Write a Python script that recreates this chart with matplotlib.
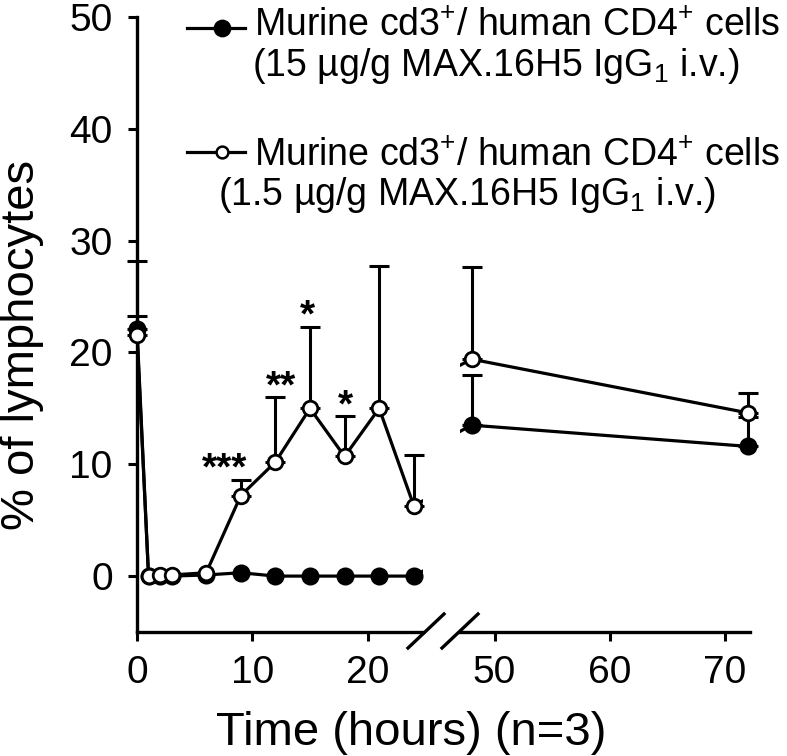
import numpy as np
import matplotlib
matplotlib.use('Agg')
import matplotlib.pyplot as plt
from matplotlib.lines import Line2D

plt.rcParams.update({
    'font.family': ['Liberation Sans', 'DejaVu Sans'],
    'mathtext.fontset': 'custom',
    'mathtext.rm': 'Liberation Sans',
    'mathtext.it': 'Liberation Sans:italic',
    'mathtext.bf': 'Liberation Sans:bold',
    'axes.linewidth': 2.4,
})

# Data (% of lymphocytes, mean + upper SD)
hours = np.array([0, 1, 2, 3, 6, 9, 12, 15, 18, 21, 24, 48, 72])
high_dose = np.array([22.1, 0.0, 0.0, 0.0, 0.1, 0.3, 0.0, 0.0, 0.0, 0.0, 0.0, 13.5, 11.6])
high_err = np.array([6.1, 0, 0, 0, 0, 0, 0, 0, 0, 0, 0, 4.5, 2.6])
low_dose = np.array([21.6, 0.0, 0.1, 0.1, 0.3, 7.2, 10.2, 15.0, 10.7, 15.0, 6.3, 19.4, 14.6])
low_err = np.array([1.7, 0, 0, 0, 0, 1.4, 5.8, 7.3, 3.6, 12.7, 4.5, 8.2, 1.8])

stars = ['***', '**', '*', '*']
star_hours = [9, 12, 15, 18]
star_shift = [-1.4, 0.5, -0.2, 0.1]

legend_text = ['Murine cd3$^{+}$/ human CD4$^{+}$ cells',
               '(15 µg/g MAX.16H5 IgG$_1$ i.v.)',
               'Murine cd3$^{+}$/ human CD4$^{+}$ cells',
               '(1.5 µg/g MAX.16H5 IgG$_1$ i.v.)']

W, H = 787, 756
fig = plt.figure(figsize=(W / 100, H / 100), dpi=100)
axL = fig.add_axes([137 / W, 1 - 632 / H, 286 / W, 615 / H])
axR = fig.add_axes([460 / W, 1 - 632 / H, 290 / W, 615 / H])

for ax, lo, hi in [(axL, 0, 24.8), (axR, 47, 72.2)]:
    ax.set_xlim(lo, hi)
    ax.set_ylim(-5, 50)
    ax.spines['top'].set_visible(False)
    ax.spines['right'].set_visible(False)
    m = (hours >= lo) & (hours <= hi)
    for vals, errs, face, z in [(high_dose, high_err, 'k', 2), (low_dose, low_err, 'white', 3)]:
        ax.plot(hours, vals, '-', color='k', lw=2.3, zorder=z)
        e = m & (errs > 0)
        eb = ax.errorbar(hours[e], vals[e], yerr=[np.zeros(e.sum()), errs[e]], fmt='none',
                         ecolor='k', elinewidth=2.2, capsize=7, capthick=2.2, zorder=z + 0.1)
        for a in list(eb[1]) + list(eb[2]):
            a.set_clip_on(False)
        ms = 11 if face == 'k' else 10.5
        ax.plot(hours[m], vals[m], 'o', ms=ms, mfc=face, mec='k', mew=2,
                zorder=z + 0.2, clip_on=False)
    ax.tick_params(direction='out', length=6.5, width=2.2, labelsize=28, color='k')
    ax.tick_params(axis='x', pad=10)
    ax.tick_params(axis='y', pad=11)

axL.set_xticks([0, 10, 20])
axL.set_yticks([0, 10, 20, 30, 40, 50])
axR.set_xticks([50, 60, 70])
axR.spines['left'].set_visible(False)
axR.tick_params(axis='y', left=False, labelleft=False)

for s, h, dx in zip(stars, star_hours, star_shift):
    i = list(hours).index(h)
    axL.text(h + dx, low_dose[i] + low_err[i], s, ha='center', va='baseline',
             fontsize=28, fontweight='bold')

# axis break marks
for x0 in (408, 442):
    fig.add_artist(Line2D([x0 / W, (x0 + 36) / W], [1 - 648 / H, 1 - 614 / H],
                          color='k', lw=2.4, transform=fig.transFigure))

# legend
for y, face, ms in [(28, 'k', 11), (152, 'white', 8.5)]:
    fig.add_artist(Line2D([187 / W, 245 / W], [1 - y / H] * 2, color='k', lw=2.3,
                          transform=fig.transFigure))
    fig.add_artist(Line2D([222 / W], [1 - y / H], marker='o', ms=ms, mfc=face, mec='k',
                          mew=1.8, transform=fig.transFigure))
for txt, x, y in zip(legend_text, [254, 252, 254, 218], [36, 76, 166, 205]):
    fig.text(x / W, 1 - y / H, txt, ha='left', va='baseline', fontsize=27)

fig.text(22 / W, 1 - 345 / H, '% of lymphocytes', rotation=90, ha='center', va='center',
         fontsize=34)
fig.text(411 / W, 1 - 745 / H, 'Time (hours) (n=3)', ha='center', va='baseline', fontsize=34)

fig.savefig('out.png', dpi=100, facecolor='white')
